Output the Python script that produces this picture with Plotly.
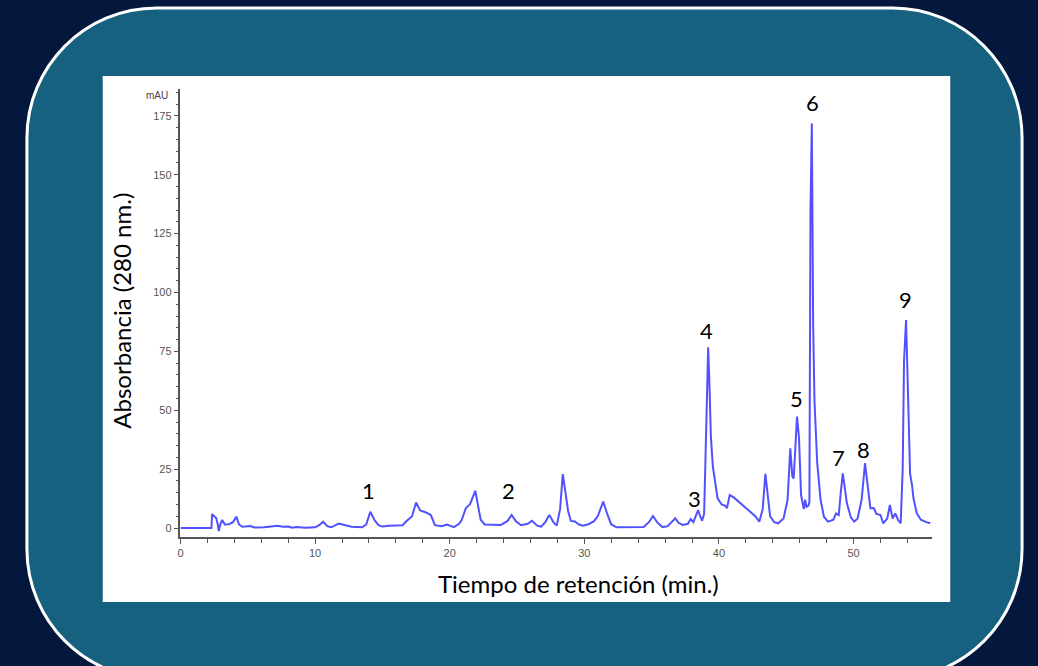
import plotly.graph_objects as go

W, H = 1038, 666

# ---- data ----
time_min = [0, 2.3, 2.35, 2.5, 2.65, 2.75, 2.85, 2.95, 3.1, 3.3, 3.6, 3.9, 4.15, 4.35, 4.6,
            5.2, 5.5, 6.2, 6.8, 7.2, 7.6, 8.0, 8.3, 8.6, 9.3, 10.0, 10.3, 10.6, 10.9, 11.2,
            11.75, 12.2, 12.7, 13.5, 13.8, 14.1, 14.4, 14.7, 15.0, 15.5, 16.0, 16.5, 16.8,
            17.2, 17.5, 17.8, 18.2, 18.6, 18.9, 19.4, 19.8, 20.3, 20.7, 20.9, 21.2, 21.5,
            21.9, 22.1, 22.3, 22.6, 23.8, 24.3, 24.6, 24.9, 25.3, 25.8, 26.1, 26.5, 26.8,
            27.1, 27.4, 27.7, 27.95, 28.2, 28.4, 28.6, 28.8, 29.0, 29.3, 29.6, 29.9, 30.3,
            30.7, 31.0, 31.4, 31.7, 32.0, 32.4, 34.4, 34.8, 35.1, 35.4, 35.8, 36.2, 36.5,
            36.75, 37.0, 37.3, 37.7, 37.9, 38.1, 38.25, 38.45, 38.6, 38.75, 38.9, 39.0,
            39.1, 39.2, 39.3, 39.4, 39.55, 39.7, 39.9, 40.2, 40.45, 40.6, 40.8, 41.1, 41.5,
            41.9, 42.3, 42.7, 43.0, 43.25, 43.45, 43.6, 43.8, 44.1, 44.4, 44.8, 45.1, 45.3,
            45.45, 45.55, 45.8, 45.95, 46.1, 46.3, 46.4, 46.5, 46.65, 46.72, 46.8, 46.9,
            47.0, 47.1, 47.3, 47.55, 47.8, 48.1, 48.5, 48.7, 48.9, 49.05, 49.2, 49.35, 49.5,
            49.8, 50.05, 50.3, 50.6, 50.85, 51.0, 51.25, 51.5, 51.7, 52.0, 52.2, 52.5, 52.7,
            52.9, 53.1, 53.3, 53.5, 53.65, 53.75, 53.9, 54.0, 54.1, 54.2, 54.35, 54.45, 54.7,
            55.0, 55.4, 55.7]
absorbance = [0, 0, 5.9, 5.0, 4.2, 2.0, -1.3, 1.5, 3.4, 1.5, 1.6, 2.5, 4.8, 1.5, 0.5,
              0.8, 0.2, 0.3, 0.7, 1.0, 0.5, 0.6, 0.1, 0.4, 0.1, 0.3, 1.2, 2.7, 0.8, 0.3,
              1.9, 1.2, 0.5, 0.3, 1.5, 6.9, 3.5, 1.2, 0.6, 1.0, 1.0, 1.2, 3.0,
              5.0, 10.8, 7.5, 6.7, 5.5, 1.2, 0.8, 1.5, 0.4, 1.8, 3.5, 8.5, 10.0,
              15.8, 9.0, 3.5, 1.5, 1.3, 3.0, 5.5, 3.0, 1.2, 1.8, 3.1, 1.0, 0.6,
              2.5, 5.5, 2.5, 1.0, 8.0, 22.9, 15.0, 7.0, 3.0, 2.8, 1.5, 1.0, 1.6,
              2.8, 5.0, 11.2, 6.0, 1.5, 0.3, 0.4, 2.5, 5.1, 2.5, 0.4, 0.8, 2.5,
              4.1, 2.2, 1.3, 1.8, 3.8, 2.5, 4.5, 7.6, 5.0, 3.1, 6.0, 30.0,
              50.0, 76.7, 60.0, 38.8, 26.0, 20.0, 12.6, 10.0, 9.5, 8.5, 14.0, 13.0, 11.0,
              9.0, 7.0, 5.0, 2.7, 8.0, 23.0, 14.0, 5.0, 2.5, 2.0, 4.0, 12.0, 33.8,
              22.0, 21.0, 47.3, 38.0, 14.0, 8.0, 12.0, 9.0, 9.5, 11.0, 134.0, 171.8,
              85.5, 53.6, 27.6, 12.0, 4.8, 2.7, 3.5, 6.2, 5.5, 15.0, 23.2, 17.0, 10.6,
              4.5, 2.7, 4.0, 12.0, 27.5, 20.0, 8.4, 8.5, 6.0, 5.5, 2.0, 4.0, 9.8,
              4.0, 6.2, 3.5, 2.0, 25.0, 71.0, 88.3, 67.0, 40.0, 23.0, 18.0, 12.6, 6.2,
              3.5, 2.5, 2.0]

peak_labels = ["1", "2", "3", "4", "5", "6", "7", "8", "9"]
peak_label_time = [13.93, 24.37, 38.22, 39.11, 45.78, 46.96, 48.89, 50.74, 53.85]
peak_label_abs = [16.1, 16.1, 12.7, 83.7, 54.8, 180.5, 30.1, 33.5, 97.2]

x_ticks = [0, 10, 20, 30, 40, 50]
y_ticks = [0, 25, 50, 75, 100, 125, 150, 175]

x_title = "Tiempo de retención (min.)"
y_title = "Absorbancia (280 nm.)"
y_unit = "mAU"


def P(x, y):
    return f"{x / W:.5f},{1 - y / H:.5f}"


def rounded_rect(L, T, R, B, r):
    k = 0.5523 * r
    return (f"M {P(L, T + r)} C {P(L, T + r - k)} {P(L + r - k, T)} {P(L + r, T)} "
            f"L {P(R - r, T)} C {P(R - r + k, T)} {P(R, T + r - k)} {P(R, T + r)} "
            f"L {P(R, B - r)} C {P(R, B - r + k)} {P(R - r + k, B)} {P(R - r, B)} "
            f"L {P(L + r, B)} C {P(L + r - k, B)} {P(L, B - r + k)} {P(L, B - r)} Z")


fig = go.Figure()
fig.add_trace(go.Scatter(x=time_min, y=absorbance, mode="lines",
                         line=dict(color="rgba(50,50,255,0.85)", width=2),
                         hoverinfo="x+y", showlegend=False))

shapes = [
    dict(type="path", xref="paper", yref="paper", layer="below",
         path=rounded_rect(24, 8, 1022, 679, 130),
         fillcolor="#166080", line=dict(color="white", width=3)),
    dict(type="rect", xref="paper", yref="paper", layer="below",
         x0=100 / W, x1=950 / W, y0=1 - 602 / H, y1=1 - 76 / H,
         fillcolor="white", line=dict(width=0)),
]

annotations = []
for lab, tx, ty in zip(peak_labels, peak_label_time, peak_label_abs):
    annotations.append(dict(x=tx, y=ty, xref="x", yref="y", text=lab, showarrow=False,
                            xanchor="center", yanchor="middle",
                            font=dict(family="Lato", size=22, color="black")))
annotations += [
    dict(x=577 / W, y=1 - 583 / H, xref="paper", yref="paper", text=x_title,
         xanchor="center", yanchor="middle",
         showarrow=False, font=dict(family="Lato", size=24, color="black")),
    dict(x=118 / W, y=1 - 311 / H, xref="paper", yref="paper", text=y_title,
         xanchor="center", yanchor="middle",
         textangle=-90, showarrow=False, font=dict(family="Lato", size=24, color="black")),
    dict(x=167 / W, y=1 - 96 / H, xref="paper", yref="paper", text=y_unit,
         xanchor="right", yanchor="middle",
         showarrow=False, font=dict(family="Arial", size=10, color="#444")),
]

fig.update_layout(
    width=W, height=H,
    margin=dict(l=0, r=0, t=0, b=0),
    paper_bgcolor="#04173d",
    plot_bgcolor="rgba(0,0,0,0)",
    shapes=shapes,
    annotations=annotations,
    xaxis=dict(domain=[178 / W, 932 / W], range=[0, 55.85], showgrid=False, zeroline=False,
               showline=True, linecolor="#555", linewidth=1.5, ticks="outside", ticklen=5,
               tickcolor="#555", tickwidth=1.2, tickvals=x_ticks,
               ticktext=[str(v) for v in x_ticks],
               tickfont=dict(family="Arial", size=11, color="#555"),
               minor=dict(dtick=2, tick0=0, ticks="outside", ticklen=4, tickcolor="#555",
                          showgrid=False)),
    yaxis=dict(domain=[1 - 537 / H, 1 - 89 / H], range=[-3.82, 186.4], showgrid=False,
               zeroline=False, showline=True, linecolor="#555", linewidth=1.5,
               ticks="outside", ticklen=5, tickcolor="#555", tickwidth=1.2,
               tickvals=y_ticks, ticktext=[str(v) for v in y_ticks],
               tickfont=dict(family="Arial", size=11, color="#555"),
               minor=dict(dtick=5, tick0=0, ticks="outside", ticklen=3, tickcolor="#555",
                          showgrid=False)),
)

fig.write_html("out.html", config={"displayModeBar": False},
               post_script="document.body.style.margin='0';document.body.style.background='#04173d';")
